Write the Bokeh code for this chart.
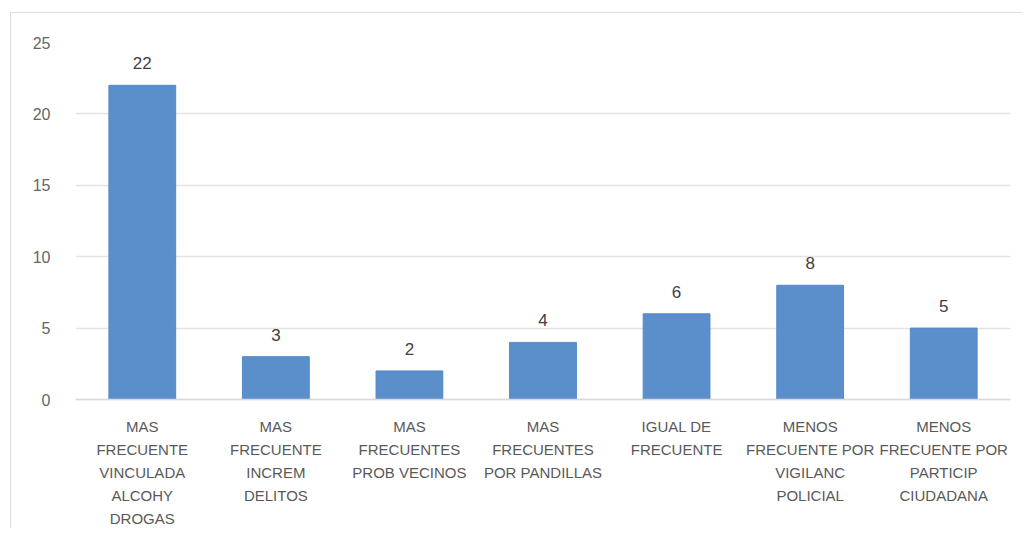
from bokeh.plotting import figure
from bokeh.models import FactorRange, Range1d, ColumnDataSource, FixedTicker, Span
from bokeh.embed import file_html
from bokeh.resources import INLINE

categories = [
    "MAS\nFRECUENTE\nVINCULADA\nALCOHY\nDROGAS",
    "MAS\nFRECUENTE\nINCREM\nDELITOS",
    "MAS\nFRECUENTES\nPROB VECINOS",
    "MAS\nFRECUENTES\nPOR PANDILLAS",
    "IGUAL DE\nFRECUENTE",
    "MENOS\nFRECUENTE POR\nVIGILANC\nPOLICIAL",
    "MENOS\nFRECUENTE POR\nPARTICIP\nCIUDADANA",
]
values = [22, 3, 2, 4, 6, 8, 5]
y_ticks = [0, 5, 10, 15, 20, 25]

src = ColumnDataSource(dict(cat=categories, val=values, lbl=[str(v) for v in values]))

# one row per label line for the category labels under the axis
line_cat, line_txt, line_off = [], [], []
for c in categories:
    for i, t in enumerate(c.split("\n")):
        line_cat.append(c)
        line_txt.append(t)
        line_off.append(27 + 23 * i)
lsrc = ColumnDataSource(dict(cat=line_cat, txt=line_txt, y=[0] * len(line_cat), off=line_off))

W, H = 1022, 528
top_b, bot_b = 42, 2
px_per_unit = 357 / 25
frame_h = H - top_b - bot_b
y_lo = 25 - frame_h / px_per_unit

p = figure(
    x_range=FactorRange(*categories, range_padding=0),
    y_range=Range1d(y_lo, 25),
    width=W, height=H,
    output_backend="svg", toolbar_location=None,
    min_border_left=75, min_border_right=12, min_border_top=top_b, min_border_bottom=bot_b,
)
line = "linear-gradient(#dcdcdc,#dcdcdc)"
p.styles = {"background": f"{line} 10px 12px / 100% 1px no-repeat, {line} 10px 12px / 1px 100% no-repeat, white"}
p.outline_line_color = None
p.background_fill_color = "white"
p.border_fill_color = None

p.ygrid.grid_line_color = "#e3e3e3"
p.ygrid.grid_line_width = 1.5
p.xgrid.grid_line_color = None
p.add_layout(Span(location=0, dimension="width", line_color="#d9d9d9", line_width=1.5))

p.vbar(x="cat", top="val", width=0.5, source=src, fill_color="#5b8fcc", line_color="#5489c7", line_width=1)
p.text(x="cat", y="val", text="lbl", source=src, text_align="center", text_baseline="middle",
       y_offset=-22, text_font_size="17px", text_color="#404040")
p.text(x="cat", y="y", text="txt", source=lsrc, y_offset="off", text_align="center",
       text_baseline="middle", text_font_size="15px", text_color="#595959")

p.yaxis.ticker = FixedTicker(ticks=y_ticks)
p.yaxis.axis_line_color = None
p.yaxis.major_tick_line_color = None
p.yaxis.major_tick_out = 0
p.yaxis.minor_tick_line_color = None
p.yaxis.major_label_text_font_size = "16px"
p.yaxis.major_label_text_color = "#666666"
p.yaxis.major_label_standoff = 25
p.xaxis.visible = False

open("out.html", "w").write(file_html(p, INLINE))
